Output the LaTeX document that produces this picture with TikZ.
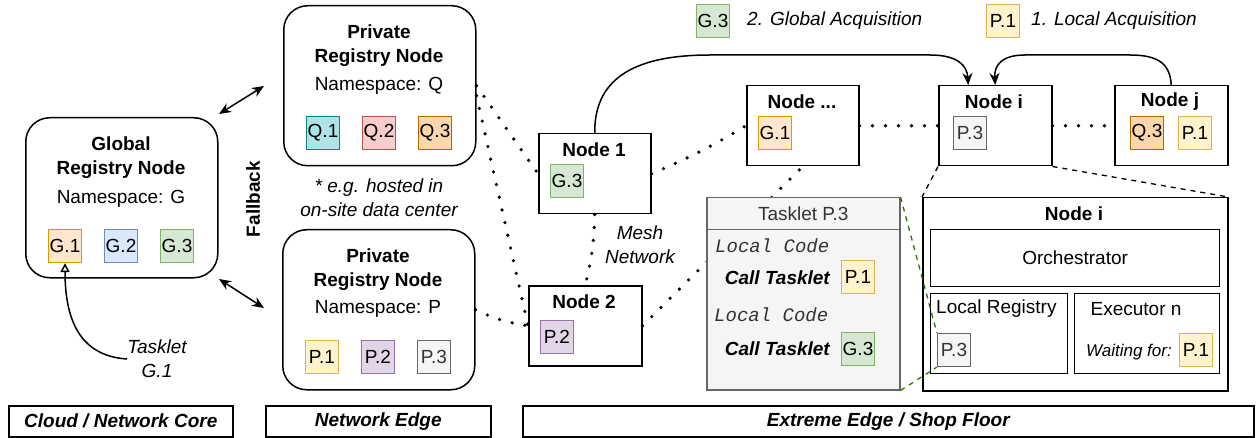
\documentclass[tikz,border=0pt]{standalone}
\usepackage{fontspec}
\setmainfont{Liberation Sans}
\setmonofont{Liberation Mono}
\usetikzlibrary{arrows.meta}
\definecolor{cOF}{HTML}{FFE6CC}\definecolor{cOD}{HTML}{D79B00}
\definecolor{cBF}{HTML}{DAE8FC}\definecolor{cBD}{HTML}{6C8EBF}
\definecolor{cGF}{HTML}{D5E8D4}\definecolor{cGD}{HTML}{82B366}
\definecolor{cTF}{HTML}{B0E3E6}\definecolor{cTD}{HTML}{0E8088}
\definecolor{cRF}{HTML}{F8CECC}\definecolor{cRD}{HTML}{B85450}
\definecolor{cDF}{HTML}{FAD7AC}\definecolor{cDD}{HTML}{B46504}
\definecolor{cYF}{HTML}{FFF2CC}\definecolor{cYD}{HTML}{D6B656}
\definecolor{cPF}{HTML}{E1D5E7}\definecolor{cPD}{HTML}{9673A6}
\definecolor{cSF}{HTML}{F5F5F5}\definecolor{cSD}{HTML}{666666}
\definecolor{cST}{HTML}{333333}
\definecolor{cGreenDash}{HTML}{2D7600}
\newcommand\fs{\fontsize{19}{24}\selectfont}
\tikzset{
  box/.style={draw=black, line width=1.5pt, fill=white, inner sep=0pt, anchor=north west},
  rbox/.style={box, rounded corners=24pt},
  tag/.style={line width=1.2pt, minimum width=33pt, minimum height=33pt, inner sep=0pt, font=\fs},
  tagO/.style={tag, fill=cOF, draw=cOD},
  tagB/.style={tag, fill=cBF, draw=cBD},
  tagG/.style={tag, fill=cGF, draw=cGD},
  tagT/.style={tag, fill=cTF, draw=cTD},
  tagR/.style={tag, fill=cRF, draw=cRD},
  tagD/.style={tag, fill=cDF, draw=cDD},
  tagY/.style={tag, fill=cYF, draw=cYD},
  tagP/.style={tag, fill=cPF, draw=cPD},
  tagS/.style={tag, fill=cSF, draw=cSD, text=cST},
  lbl/.style={inner sep=0pt, align=center, font=\fs},
  ttl/.style={inner sep=0pt, align=center, font=\fs\bfseries},
  itl/.style={inner sep=0pt, align=center, font=\fs\itshape},
  dotline/.style={line width=3.6pt, line cap=round, dash pattern=on 0pt off 13pt},
  dashline/.style={line width=1.3pt, dash pattern=on 5pt off 5pt},
  arr/.style={line width=1.5pt, -{Stealth[length=12pt,width=10pt]}},
  dblarr/.style={line width=1.5pt, {Stealth[length=12pt,width=10pt]}-{Stealth[length=12pt,width=10pt]}},
}
\begin{document}
\begin{tikzpicture}[x=1pt,y=-1pt]
\useasboundingbox (0,0) rectangle (1260,438);

% Legend
\node[tagG] (lgG3) at (713,21) {G.3};
\node[itl, anchor=west] (lgGtxt) at (747,21) {2. Global Acquisition};
\node[tagY] (lgP1) at (1003,21) {P.1};
\node[itl, anchor=west] (lgPtxt) at (1031,21) {1. Local Acquisition};

% Global registry
\node[rbox, minimum width=192pt, minimum height=160pt] (glob) at (25,117) {};
\node[ttl] (globT) at (121,158) {Global\\Registry Node};
\node[lbl] (globNS) at (121,199) {Namespace: G};
\node[tagO] (gG1) at (65,246) {G.1};
\node[tagB] (gG2) at (121,246) {G.2};
\node[tagG] (gG3) at (177,246) {G.3};

% Private registry Q
\node[rbox, minimum width=192pt, minimum height=160pt] (qreg) at (283,5) {};
\node[ttl] (qT) at (379,46) {Private\\Registry Node};
\node[lbl] (qNS) at (379,86) {Namespace: Q};
\node[tagT] (qQ1) at (323,133) {Q.1};
\node[tagR] (qQ2) at (379,133) {Q.2};
\node[tagD] (qQ3) at (435,133) {Q.3};
\node[itl] (note) at (379,198) {* e.g. hosted in\\on-site data center};

% Private registry P
\node[rbox, minimum width=192pt, minimum height=160pt] (preg) at (282,229) {};
\node[ttl] (pT) at (378,270) {Private\\Registry Node};
\node[lbl] (pNS) at (378,309) {Namespace: P};
\node[tagY] (pP1) at (322,357) {P.1};
\node[tagP] (pP2) at (378,357) {P.2};
\node[tagS] (pP3) at (434,357) {P.3};

% Fallback
\node[ttl, rotate=90] (fb) at (253,199) {Fallback};

% Arrows near global
\coordinate (da1) at (219,114);
\coordinate (da2) at (264,86);
\coordinate (db1) at (219,279);
\coordinate (db2) at (264,308);
\draw[dblarr] (da1) -- (da2);
\draw[dblarr] (db1) -- (db2);

% Tasklet G.1
\node[itl] (tg1) at (157,359) {Tasklet\\G.1};
\draw[line width=1.5pt, -{Triangle[open, length=9pt, width=9pt]}]
  (tg1.west) .. controls (80,356) and (65,320) .. (gG1.south);

% Mesh nodes
\node[box, minimum width=112pt, minimum height=80pt] (n1) at (538,133) {};
\node[ttl] (n1T) at (594,150) {Node 1};
\node[tagG] (n1G3) at (567,181) {G.3};

\node[box, minimum width=113pt, minimum height=80pt] (n2) at (528,285) {};
\node[ttl] (n2T) at (584,302) {Node 2};
\node[tagP] (n2P2) at (557,337) {P.2};

\node[box, minimum width=112pt, minimum height=80pt] (nd) at (746,85) {};
\node[ttl] (ndT) at (802,102) {Node ...};
\node[tagO] (ndG1) at (775,133) {G.1};

\node[box, minimum width=113pt, minimum height=80pt] (ni) at (938,85) {};
\node[ttl] (niT) at (994,102) {Node i};
\node[tagS] (niP3) at (970,133) {P.3};

\node[box, minimum width=113pt, minimum height=80pt] (nj) at (1114,85) {};
\node[ttl] (njT) at (1170,102) {Node j};
\node[tagD] (njQ3) at (1147,133) {Q.3};
\node[tagY] (njP1) at (1195,133) {P.1};

\node[itl] (mesh) at (640,245) {Mesh\\Network};

% Dotted mesh links
\draw[dotline] (qreg.east) -- (n1.west);
\draw[dotline] ([yshift=-10pt]qreg.east) -- (n2.west);
\draw[dotline] (preg.east) to[bend right=8] (n2.west);
\draw[dotline] (n1.south) to[bend left=6] (n2.north);
\draw[dotline] (n1.east) to[bend right=4] (nd.west);
\draw[dotline] (n2.east) -- (nd.south);
\draw[dotline] (nd.east) -- (ni.west);
\draw[dotline] (ni.east) -- (nj.west);

% Solid arcs
\draw[arr] (n1.north) .. controls (594,75) and (640,55) .. (710,55) -- (930,55)
  .. controls (957,55) and (967,65) .. ([xshift=-27pt]ni.north);
\draw[arr] (nj.north) .. controls (1170,65) and (1160,55) .. (1130,55) -- (1025,55)
  .. controls (1002,55) and (994,65) .. (ni.north);

% Zoomed node i
\node[box, minimum width=305pt, minimum height=193pt] (big) at (922,197) {};
\draw[dashline] (ni.south west) -- (big.north west);
\draw[dashline] (ni.south east) -- (big.north east);
\node[ttl] (bigT) at (1074,214) {Node i};
\node[box, line width=1.3pt, minimum width=289pt, minimum height=57pt, font=\fs] (orch) at (930,229) {Orchestrator};
\node[box, line width=1.3pt, minimum width=137pt, minimum height=80pt] (lreg) at (930,293) {};
\node[lbl, anchor=west] (lregT) at (936,309) {Local Registry};
\node[tagS] (lP3) at (954,350) {P.3};
\node[box, line width=1.3pt, minimum width=145pt, minimum height=80pt] (exe) at (1074,293) {};
\node[lbl] (exeT) at (1136,309) {Executor n};
\node[inner sep=0pt, font=\fontsize{17}{20}\selectfont\itshape, anchor=east] (wait) at (1172,352) {Waiting for:};
\node[tagY] (eP1) at (1196,350) {P.1};

% Tasklet P.3
\node[box, fill=cSF, draw=cSD, minimum width=193pt, minimum height=32pt, text=cST, font=\fs] (thead) at (706,197) {Tasklet P.3};
\node[box, fill=cSF, draw=cSD, minimum width=193pt, minimum height=160pt] (tbody) at (706,229) {};
\node[inner sep=0pt, anchor=west, text=cST, font=\fs\ttfamily\itshape] (lc1) at (715,246) {Local Code};
\node[inner sep=0pt, anchor=east, font=\fs\bfseries\itshape] (ct1) at (830,278) {Call Tasklet};
\node[tagY] (tP1) at (858,277) {P.1};
\node[inner sep=0pt, anchor=west, text=cST, font=\fs\ttfamily\itshape] (lc2) at (714,315) {Local Code};
\node[inner sep=0pt, anchor=east, font=\fs\bfseries\itshape] (ct2) at (830,349) {Call Tasklet};
\node[tagG] (tG3) at (858,349) {G.3};

% Green dashed zoom lines
\draw[dashline, draw=cGreenDash] (thead.north east) -- (lP3.north west);
\draw[dashline, draw=cGreenDash] (tbody.south east) -- (lP3.south west);

% Region labels
\node[box, minimum width=224pt, minimum height=31pt, font=\fs\bfseries\itshape] (rc) at (8,405) {Cloud / Network Core};
\node[box, minimum width=225pt, minimum height=31pt, font=\fs\bfseries\itshape] (rn) at (265,405) {Network Edge};
\node[box, minimum width=731pt, minimum height=31pt, font=\fs\bfseries\itshape] (rx) at (522,405) {Extreme Edge / Shop Floor};
\end{tikzpicture}
\end{document}
